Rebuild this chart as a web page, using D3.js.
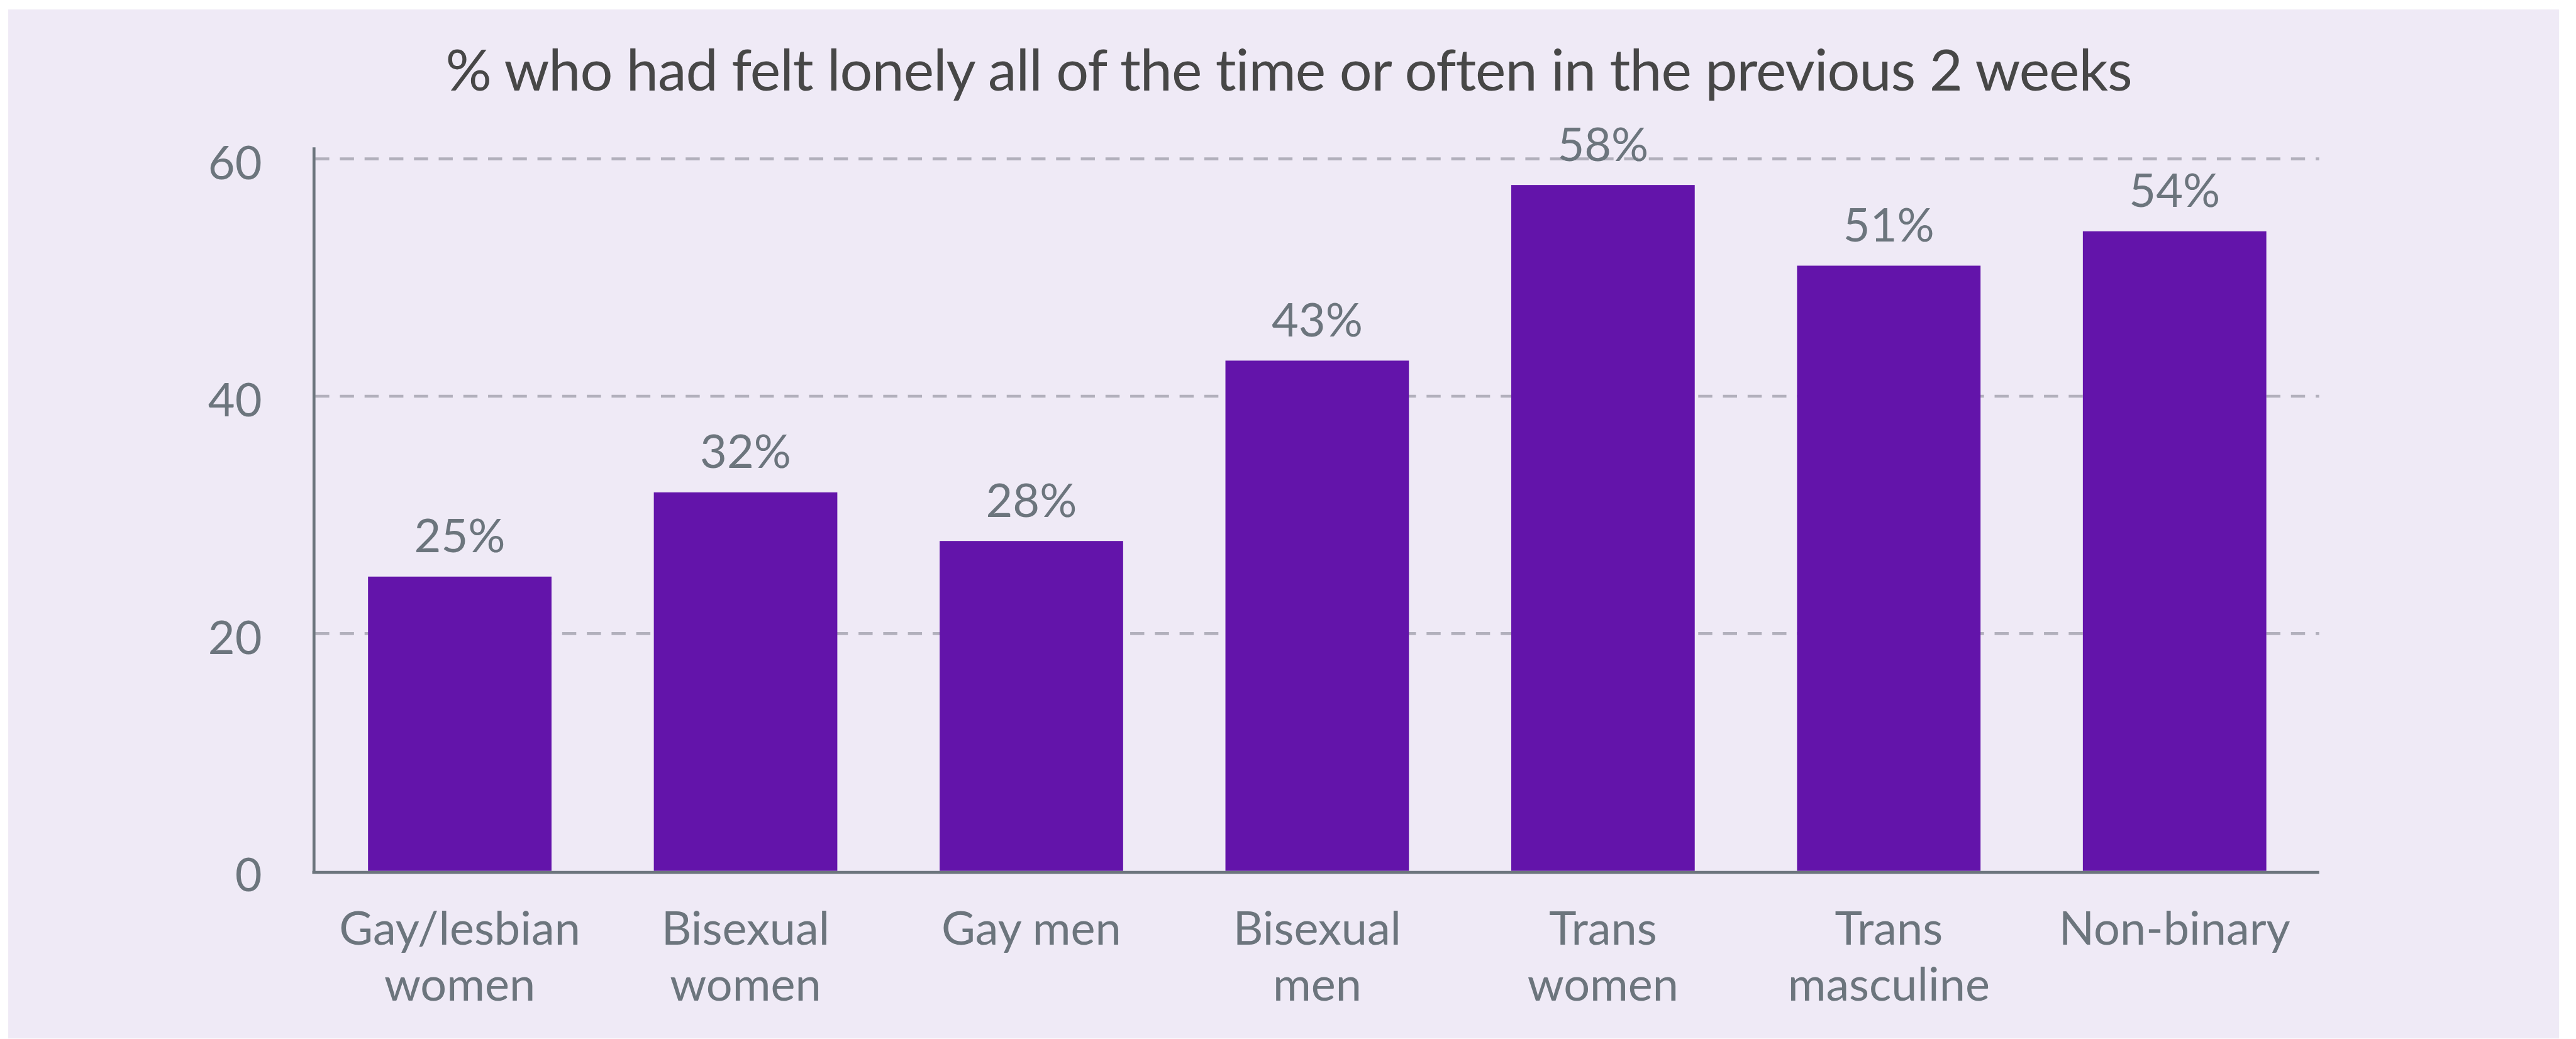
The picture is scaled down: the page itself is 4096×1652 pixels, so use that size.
<!DOCTYPE html>
<html>
<head>
<meta charset="utf-8">
<script src="https://cdn.jsdelivr.net/npm/d3@7"></script>
<style>
  html, body { margin: 0; padding: 0; background: #ffffff; }
  svg { display: block; }
</style>
</head>
<body>
<svg id="chart" width="4096" height="1652"></svg>
<script>
// ---- data ----
const title = "% who had felt lonely all of the time or often in the previous 2 weeks";
const categories = ["Gay/lesbian women", "Bisexual women", "Gay men", "Bisexual men", "Trans women", "Trans masculine", "Non-binary"];
const categoryLines = [["Gay/lesbian", "women"], ["Bisexual", "women"], ["Gay men"], ["Bisexual", "men"], ["Trans", "women"], ["Trans", "masculine"], ["Non-binary"]];
const values = [24.8, 31.9, 27.8, 43.0, 57.8, 51.0, 53.9];
const valueLabels = ["25%", "32%", "28%", "43%", "58%", "51%", "54%"];
const yTicks = [0, 20, 40, 60];

// ---- layout (reference pixel units, scaled at the end) ----
const S = 0.935;
const FONT = "Lato, 'Noto Sans', sans-serif";
const tickColor = "#6c757d";

const svg = d3.select("#chart");
const root = svg.append("g").attr("transform", `scale(${S})`);

// panel
root.append("rect")
  .attr("x", 14).attr("y", 16)
  .attr("width", 4352 - 14).attr("height", 1766 - 16)
  .attr("fill", "#efeaf6");

const x = d3.scaleBand()
  .domain(categories)
  .range([534, 3946])
  .paddingInner(0.358)
  .paddingOuter(0.189);

const y = d3.scaleLinear().domain([0, 61]).range([1481, 250]);

// gridlines
root.append("g").selectAll("line")
  .data(yTicks.filter(d => d > 0))
  .join("line")
  .attr("x1", 536).attr("x2", 3944)
  .attr("y1", d => y(d)).attr("y2", d => y(d))
  .attr("stroke", "#b2b0bc")
  .attr("stroke-width", 5)
  .attr("stroke-dasharray", "24 18");

// bars
root.append("g").selectAll("rect")
  .data(categories)
  .join("rect")
  .attr("x", d => x(d))
  .attr("width", x.bandwidth())
  .attr("y", (d, i) => y(values[i]))
  .attr("height", (d, i) => y(0) - y(values[i]))
  .attr("fill", "#6314aa");

// value labels
root.append("g").selectAll("text")
  .data(categories)
  .join("text")
  .attr("x", d => x(d) + x.bandwidth() / 2)
  .attr("y", (d, i) => y(values[i]) - 41)
  .attr("text-anchor", "middle")
  .attr("font-family", FONT)
  .attr("font-size", 79)
  .attr("fill", tickColor)
  .text((d, i) => valueLabels[i]);

// y axis
const yAxis = root.append("g")
  .attr("transform", "translate(533.5,0)")
  .call(d3.axisLeft(y).tickValues(yTicks).tickSize(0).tickSizeOuter(0).tickPadding(88));
yAxis.select(".domain").attr("stroke", tickColor).attr("stroke-width", 5);
yAxis.selectAll("text")
  .attr("font-family", FONT)
  .attr("font-size", 79)
  .attr("fill", tickColor)
  .attr("dy", "0.43em");

// x axis
const xAxis = root.append("g")
  .attr("transform", `translate(0,${y(0) + 2.5})`)
  .call(d3.axisBottom(x).tickSize(0).tickSizeOuter(0).tickFormat(""));
xAxis.select(".domain")
  .attr("d", `M531,0H3944`)
  .attr("stroke", tickColor).attr("stroke-width", 5);

const xl = root.append("g").selectAll("text")
  .data(categories)
  .join("text")
  .attr("x", d => x(d) + x.bandwidth() / 2)
  .attr("y", 1606)
  .attr("text-anchor", "middle")
  .attr("font-family", FONT)
  .attr("font-size", 79)
  .attr("fill", tickColor);
xl.each(function(d, i) {
  const t = d3.select(this);
  categoryLines[i].forEach((line, k) => {
    t.append("tspan")
      .attr("x", x(d) + x.bandwidth() / 2)
      .attr("dy", k === 0 ? 0 : 96)
      .text(line);
  });
});

// title
const tEl = root.append("text")
  .attr("x", 2192)
  .attr("y", 154)
  .attr("text-anchor", "middle")
  .attr("font-family", FONT)
  .attr("font-size", 98)
  .attr("fill", "#474747")
  .text(title);
const targetW = 2868;
const w = tEl.node().getComputedTextLength();
const ls = (targetW - w) / (title.length - 1);
if (Math.abs(ls) > 0.1) {
  tEl.attr("letter-spacing", ls);
  // re-center: letter-spacing adds trailing space on last glyph
  tEl.attr("x", 2192 + ls / 2);
}
</script>
</body>
</html>
